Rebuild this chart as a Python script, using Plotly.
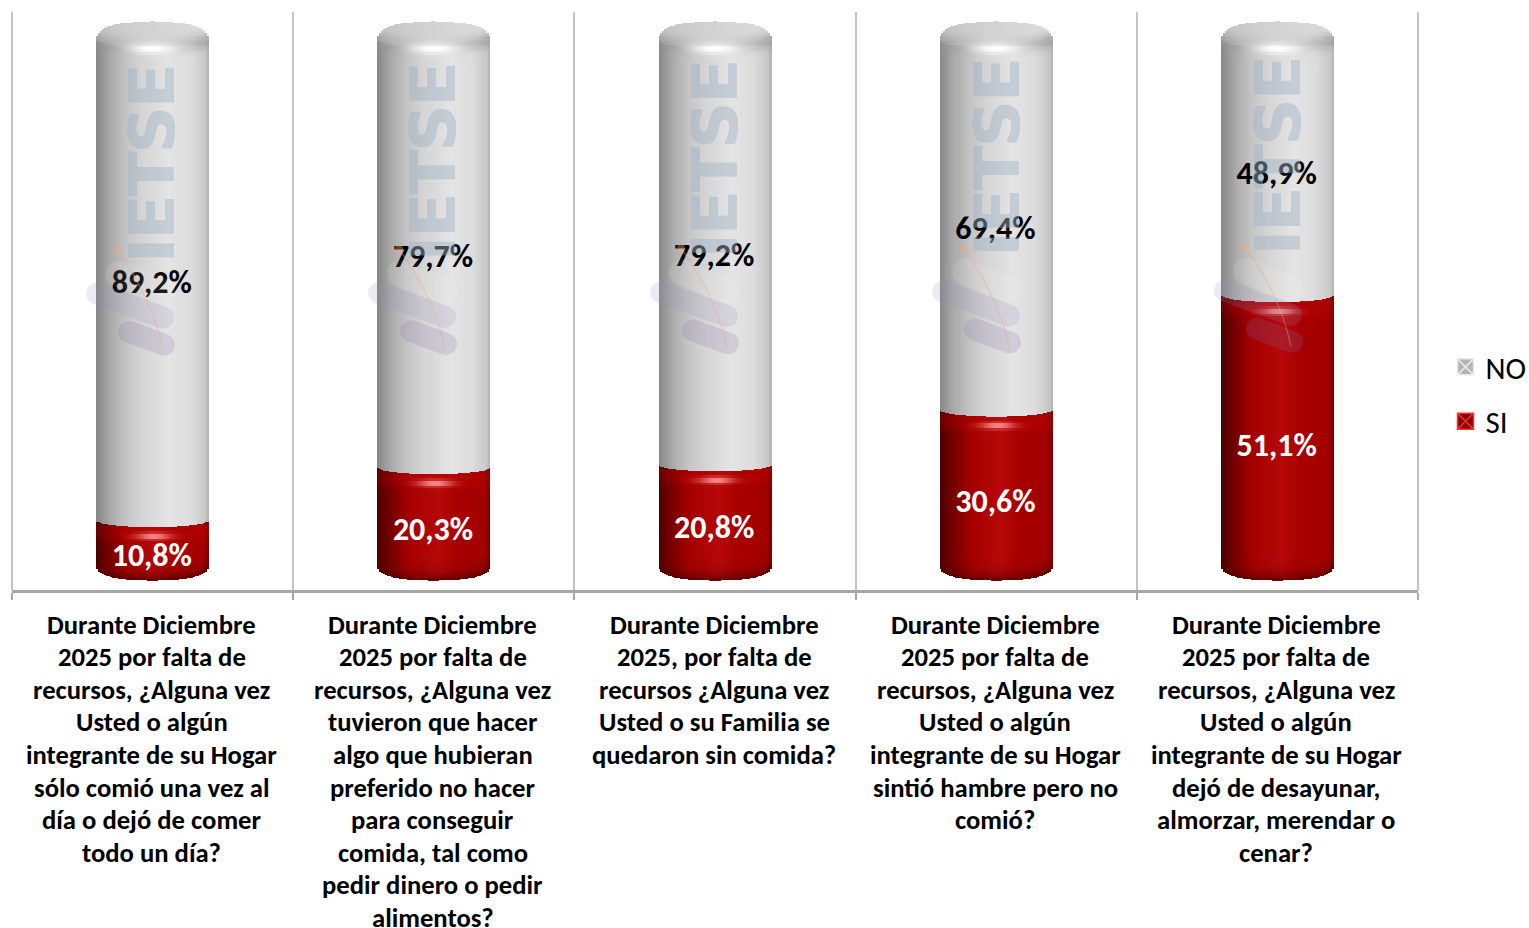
import math
import plotly.graph_objects as go

categories = [
    ["Durante Diciembre", "2025 por falta de", "recursos, ¿Alguna vez", "Usted o algún", "integrante de su Hogar", "sólo comió una vez al", "día o dejó de comer", "todo un día?"],
    ["Durante Diciembre", "2025 por falta de", "recursos, ¿Alguna vez", "tuvieron que hacer", "algo que hubieran", "preferido no hacer", "para conseguir", "comida, tal como", "pedir dinero o pedir", "alimentos?"],
    ["Durante Diciembre", "2025, por falta de", "recursos ¿Alguna vez", "Usted o su Familia se", "quedaron sin comida?"],
    ["Durante Diciembre", "2025 por falta de", "recursos, ¿Alguna vez", "Usted o algún", "integrante de su Hogar", "sintió hambre pero no", "comió?"],
    ["Durante Diciembre", "2025 por falta de", "recursos, ¿Alguna vez", "Usted o algún", "integrante de su Hogar", "dejó de desayunar,", "almorzar, merendar o", "cenar?"],
]
si_values = [10.8, 20.3, 20.8, 30.6, 51.1]
no_values = [89.2, 79.7, 79.2, 69.4, 48.9]

FONT = "Carlito, Lato, sans-serif"
WIDTH, HEIGHT = 1529, 928
L, R, T, B = 12, 1418, 12, 590.5
PX_Y = 100 / 559.0            # data units per pixel (bar axis)
PX_X = 5 / (R - L)
BAR_W = 113 * PX_X
N = 56
DT = 2.5

GREY_STOPS = [(0, (0x86,)*3), (.13, (0xaa,)*3), (.27, (0xc4,)*3), (.41, (0xd4,)*3), (.65, (0xe4,)*3),
              (.85, (0xdc,)*3), (.97, (0xc8,)*3), (1, (0xb0,)*3)]
RED_STOPS = [(0, (0x48, 0, 0)), (.1, (0x70, 0, 0)), (.28, (0xa6, 0, 0)), (.55, (0xb6, 8, 8)),
             (.7, (0xa8, 0, 0)), (.95, (0xa4, 0, 0)), (1, (0x78, 0, 0))]


def stops(tbl, u):
    for (a, ca), (b, cb) in zip(tbl, tbl[1:]):
        if u <= b:
            f = (u - a) / (b - a)
            return tuple(x + (y - x) * f for x, y in zip(ca, cb))
    return tbl[-1][1]


def mix(c, d, f):
    f = max(0, min(1, f))
    return tuple(x + (y - x) * f for x, y in zip(c, d))


def css(c):
    return "rgb(%d,%d,%d)" % tuple(round(v) for v in c)


def se(d, p):
    return max(0.0, 1 - abs(d) ** p) ** (1 / p)


def grey_top(d, t):
    c = stops(GREY_STOPS, (d + 1) / 2)
    arc = 19 + 8 * se(d, 2)
    if t < arc:
        c = mix(c, (0xd2 + 10 * d,)*3, .9 * min(1, (arc - t) / 3))
    c = mix(c, (0x94,)*3, .7 * abs(d) ** 1.5 * math.exp(-((t - arc + 3) / 8) ** 2))
    c = mix(c, (255, 255, 255), math.exp(-((t - arc) / 5) ** 2) * math.exp(-(d / .38) ** 2))
    return c


def red_top(d, t):
    c = stops(RED_STOPS, (d + 1) / 2)
    c = mix(c, (0xc8, 0, 0), .25 * math.exp(-((t - 12) / 8) ** 2))
    c = mix(c, (0xff, 0xa0, 0xa0), .95 * math.exp(-((t - 16) / 3.2) ** 2) * math.exp(-((d - .03) / .3) ** 2))
    return c


def red_bottom(d, dist):
    c = stops(RED_STOPS, (d + 1) / 2)
    return mix(c, (0x58, 0, 0), .8 * math.exp(-dist / 6))


def empty():
    return dict(x=[], base=[], y=[], width=[], color=[])


def add(s, x, lo, hi, w, col):
    s["x"].append(x); s["base"].append(lo); s["y"].append(hi - lo); s["width"].append(w); s["color"].append(css(col))


red, grey = empty(), empty()
step = BAR_W / N
ov = 0.7 * PX_Y
for k, (sv, nv) in enumerate(zip(si_values, no_values)):
    total = sv + nv
    for i in range(N):
        d = -1 + (2 * i + 1) / N
        xc = k + d * BAR_W / 2
        w = step * (1.0 if i in (0, N - 1) else 1.35)
        bt = 16 * (1 - se(d, 2.5))            # pixels above the zero line
        zone = 24
        t = bt
        while t < zone:
            t2 = min(t + DT, zone)
            add(red, xc, t * PX_Y, t2 * PX_Y + ov, w, red_bottom(d, t - bt))
            t = t2
        add(red, xc, zone * PX_Y, sv - 26 * PX_Y + ov, w, stops(RED_STOPS, (d + 1) / 2))
        t = 26.0
        while t > 0:
            t2 = max(t - DT, 0)
            add(red, xc, sv - t * PX_Y, sv - t2 * PX_Y + ov, w, red_top(d, (t + t2) / 2))
            t = t2
    for i in range(N):
        d = -1 + (2 * i + 1) / N
        xc = k + d * BAR_W / 2
        w = step * (1.0 if i in (0, N - 1) else 1.35)
        low = sv - 7 * se(d, 2) * PX_Y
        add(grey, xc, low, total - 48 * PX_Y + ov, w, stops(GREY_STOPS, (d + 1) / 2))
        top_t = 20 * (1 - se(d, 2.6))
        t = 48.0
        while t > top_t:
            t2 = max(t - DT, top_t)
            add(grey, xc, total - t * PX_Y, total - t2 * PX_Y + (ov if t2 > top_t else 0), w, grey_top(d, (t + t2) / 2))
            t = t2

fig = go.Figure()
xs = list(range(5))
# data traces (slim core, covered by the shaded strips)
fig.add_trace(go.Bar(x=xs, y=no_values, base=si_values, name="NO", width=BAR_W * .1, showlegend=False,
                     marker=dict(color="#d8d8d8", line_width=0)))
fig.add_trace(go.Bar(x=xs, y=si_values, name="SI", width=BAR_W * .1, showlegend=False,
                     marker=dict(color="#a80000", line_width=0)))
for s in (red, grey):
    fig.add_trace(go.Bar(x=s["x"], y=s["y"], base=s["base"], width=s["width"], showlegend=False,
                         hoverinfo="skip", marker=dict(color=s["color"], line_width=0)))
# legend keys
fig.add_trace(go.Scatter(x=[None], y=[None], mode="markers", name="NO", legendgroup="NO",
                         marker=dict(symbol="square-x", size=17, color="#b4b4b4", line=dict(color="#e8e8e8", width=1.5))))
fig.add_trace(go.Scatter(x=[None], y=[None], mode="markers", name="SI", legendgroup="SI",
                         marker=dict(symbol="square-x", size=17, color="#8a0000", line=dict(color="#f03030", width=1.5))))

pct = lambda v: f"{v:.1f}".replace(".", ",") + "%"
mid_si = [v / 2 for v in si_values]
mid_no = [a + b / 2 for a, b in zip(si_values, no_values)]
xs_lab = [x - 0.8 * PX_X for x in xs]
fig.add_trace(go.Scatter(x=xs_lab, y=mid_no, yaxis="y2", mode="text", text=[pct(v) for v in no_values], showlegend=False,
                         textfont=dict(family=FONT, size=32, color="#000000", weight="bold"), textposition="middle center"))
fig.add_trace(go.Scatter(x=xs_lab, y=mid_si, yaxis="y2", mode="text", text=[pct(v) for v in si_values], showlegend=False,
                         textfont=dict(family=FONT, size=32, color="#ffffff", weight="bold"), textposition="middle center"))


def px_x(p):
    return (p - L) / (R - L)


def px_y(p):
    return (B - p) / (B - T)


def capsule(p0, p1, th):
    ang = math.atan2(p1[1] - p0[1], p1[0] - p0[0])
    pts = []
    r = th / 2
    for c, a0 in ((p1, ang - math.pi / 2), (p0, ang + math.pi / 2)):
        for j in range(9):
            a = a0 + math.pi * j / 8
            pts.append((c[0] + r * math.cos(a), c[1] + r * math.sin(a)))
    return "M" + " L".join(f"{px_x(x):.5f},{px_y(y):.5f}" for x, y in pts) + " Z"


shapes = []
for xp in (0, 1):
    shapes.append(dict(type="line", xref="paper", yref="paper", x0=xp, x1=xp, y0=0, y1=1,
                       line=dict(color="#c4c4c4", width=2), layer="below"))
for k in range(5):
    dx, dy = 282.0 * k, -0.75 * k
    def P(x, y):
        return (x + dx, y + dy)
    for a, b, th, col in (((118, 274), (163, 292), 26, "rgba(255,255,255,.10)"),
                          ((97, 294), (163, 318), 22, "rgba(150,145,195,.18)"),
                          ((129, 332), (164, 345), 22, "rgba(130,110,170,.2)")):
        shapes.append(dict(type="path", xref="paper", yref="paper", path=capsule(P(*a), P(*b), th),
                           fillcolor=col, line_width=0, layer="above"))
    p = [P(117, 250), P(135, 275), P(155, 310), P(163, 350)]
    shapes.append(dict(type="path", xref="paper", yref="paper",
                       path=f"M{px_x(p[0][0]):.5f},{px_y(p[0][1]):.5f} C{px_x(p[1][0]):.5f},{px_y(p[1][1]):.5f} "
                            f"{px_x(p[2][0]):.5f},{px_y(p[2][1]):.5f} {px_x(p[3][0]):.5f},{px_y(p[3][1]):.5f}",
                       line=dict(color="rgba(235,170,120,.4)", width=1.2), layer="above"))
    shapes.append(dict(type="circle", xref="paper", yref="paper",
                       x0=px_x(p[0][0] - 4), x1=px_x(p[0][0] + 4), y0=px_y(p[0][1] + 4), y1=px_y(p[0][1] - 4),
                       fillcolor="rgba(235,170,120,.4)", line_width=0, layer="above"))

annotations = []
for k in range(5):
    annotations.append(dict(text="<b>IETSE</b>", x=k + 0.5 / 281.2, xref="x", y=px_y(163 - 1.9 * k), yref="paper",
                            xanchor="center", yanchor="middle",
                            showarrow=False, textangle=-90, opacity=.45,
                            font=dict(family="DejaVu Sans", size=63, color="#9fb4c6",
                                      shadow="1px 0 #9fb4c6, -1px 0 #9fb4c6")))
    for j, line in enumerate(categories[k]):
        annotations.append(dict(text=f"<b>{line}</b>", x=k, xref="x", xshift=-1, y=0, yref="paper", yanchor="middle",
                                yshift=-(34.5 + 32.6 * j), showarrow=False,
                                font=dict(family=FONT, size=26.67, color="#000000")))

y_range = [-(B - 581) * PX_Y, (581 - T) * PX_Y]
y2_range = [-(B - 587.5) / 5.45, (587.5 - T) / 5.45]
fig.update_layout(
    width=WIDTH, height=HEIGHT, barmode="overlay", bargap=0, plot_bgcolor="white", paper_bgcolor="white",
    margin=dict(l=L, r=WIDTH - R, t=T, b=HEIGHT - B, autoexpand=False),
    font=dict(family=FONT, color="#000000"),
    hovermode=False,
    xaxis=dict(range=[-.5, 4.5], tickmode="array", tickvals=[-.5, .5, 1.5, 2.5, 3.5, 4.5], showticklabels=False,
               ticks="outside", ticklen=7, tickwidth=2, tickcolor="#a6a6a6", showgrid=True, gridcolor="#c4c4c4",
               gridwidth=2, showline=True, linecolor="#a6a6a6", linewidth=3, zeroline=False),
    yaxis=dict(range=y_range, visible=False, showgrid=False, zeroline=False),
    yaxis2=dict(range=y2_range, overlaying="y", visible=False, showgrid=False, zeroline=False),
    legend=dict(x=px_x(1445.5), y=px_y(340.5), xanchor="left", yanchor="top", traceorder="grouped", tracegroupgap=11,
                font=dict(family=FONT, size=31), bgcolor="rgba(0,0,0,0)", itemwidth=30, itemsizing="trace"),
    shapes=shapes, annotations=annotations,
)
fig.write_html("out.html", post_script="document.body.style.margin='0';", config=dict(displayModeBar=False))
